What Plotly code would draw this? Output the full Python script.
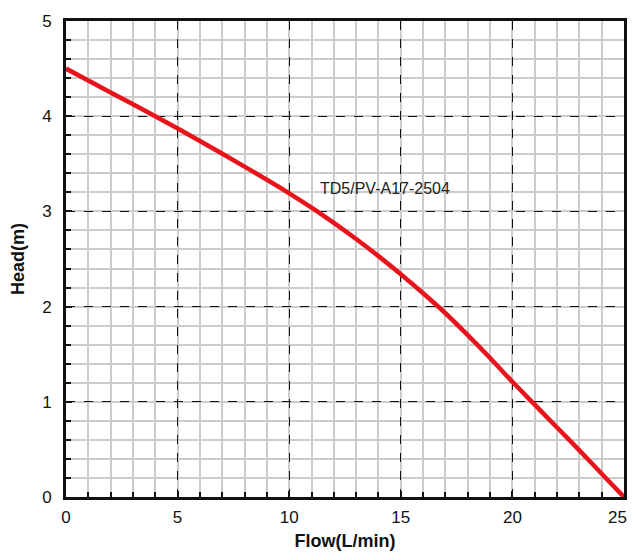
import plotly.graph_objects as go

flow = [0, 2, 4, 6, 8, 10, 11, 12, 13, 14, 15, 16, 17, 18, 19, 20, 21, 22, 23, 24, 25]
head = [4.5, 4.25, 4.0, 3.74, 3.47, 3.19, 3.04, 2.88, 2.71, 2.53, 2.34, 2.14, 1.93, 1.7, 1.46, 1.21,
        0.97, 0.73, 0.49, 0.245, 0.0]
x_ticks = [0, 5, 10, 15, 20, 25]
x_ticktext = ["0", "5", "10", "15", "20", "25\u2007\u2009"]
y_ticks = [0, 1, 2, 3, 4, 5]
label = "TD5/PV-A17-2504"

fig = go.Figure()
fig.add_trace(go.Scatter(x=flow, y=head, mode="lines",
                         line=dict(color="#e8141c", width=4.5, shape="spline", smoothing=0.8),
                         showlegend=False, hoverinfo="skip"))

fig.add_annotation(x=14.3, y=3.24, text=label, showarrow=False,
                   font=dict(family="Liberation Sans, Arial", size=16, color="#222"))

font = dict(family="Liberation Sans, Arial", size=17, color="#111")
tfont = dict(family="Liberation Sans, Arial", size=18, color="#111")
common = dict(tickfont=font, showgrid=True, gridcolor="#111", griddash="dash", gridwidth=1,
              ticks="inside", ticklen=6, tickwidth=2, tickcolor="#111",
              showline=True, linecolor="#111", linewidth=3, mirror=True, zeroline=False,
              automargin=False, layer="above traces", ticklabeloverflow="allow")
fig.update_xaxes(range=[0, 25], tickvals=x_ticks, ticktext=x_ticktext, ticklabelstandoff=3,
                 minor=dict(dtick=1, showgrid=True, gridcolor="#cccccc", gridwidth=1.5, griddash="solid",
                            ticks="inside", ticklen=5, tickcolor="#111", tickwidth=2),
                 title=dict(text="<b>Flow(L/min)</b>", font=tfont, standoff=14), **common)
fig.update_yaxes(range=[0, 5], tickvals=y_ticks, ticklabelstandoff=8,
                 minor=dict(dtick=0.2, showgrid=True, gridcolor="#cccccc", gridwidth=1.5, griddash="solid",
                            ticks="inside", ticklen=5, tickcolor="#111", tickwidth=2),
                 title=dict(text="<b>Head(m)</b>", font=tfont, standoff=26), **common)

fig.update_layout(width=628, height=543, margin=dict(l=58, r=12, t=13, b=54),
                  plot_bgcolor="white", paper_bgcolor="white")
fig.write_html("out.html")
